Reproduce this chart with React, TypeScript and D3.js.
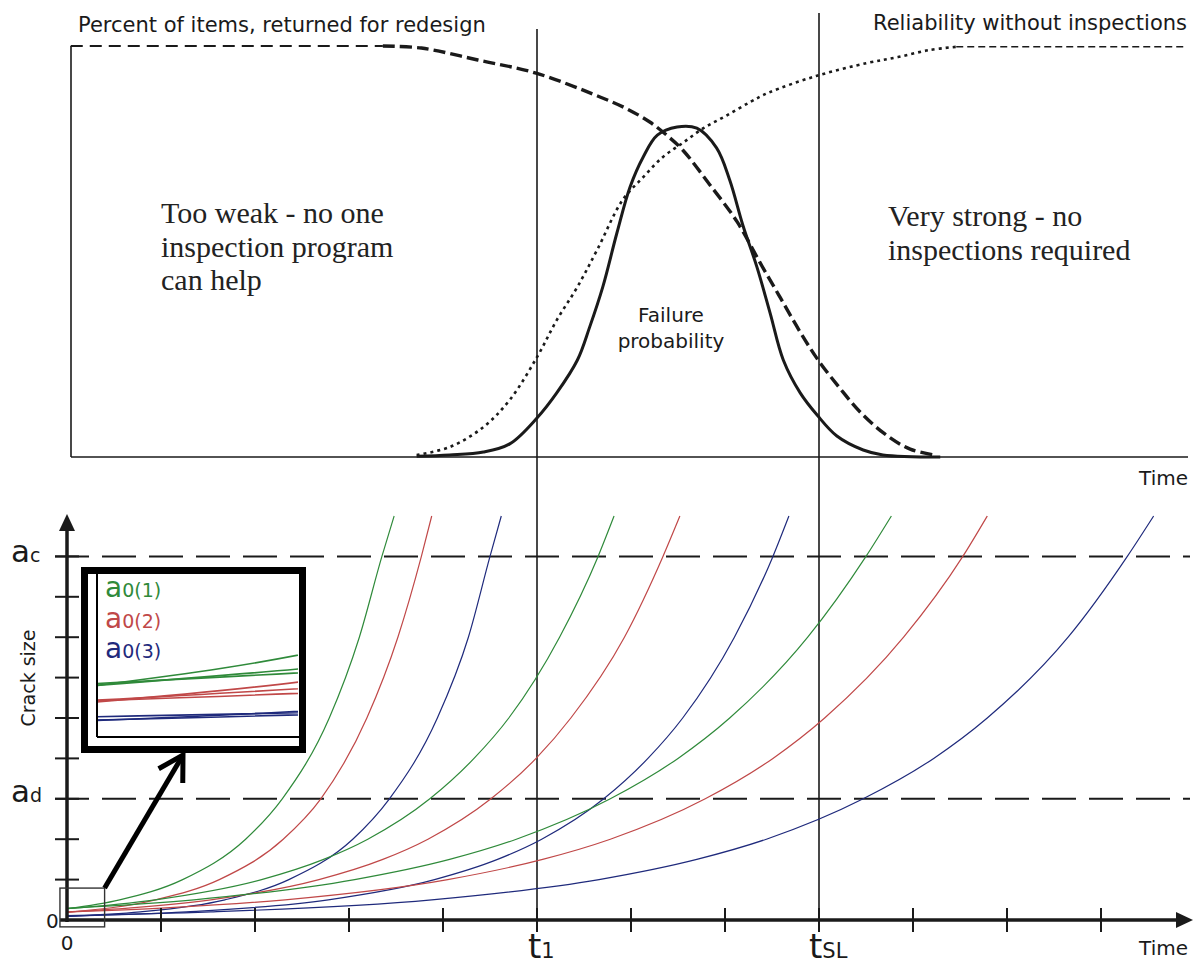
import React from 'react';
import * as d3 from 'd3';

const W = 1200;
const H = 967;

// ---- time / crack axes ----
const timeTicks = [1, 2, 3, 4, 5, 6, 7, 8, 9, 10, 11];
const crackTicks = [1, 2, 3, 4, 5, 6, 7, 8, 9];
const T1 = 5;
const TSL = 8;
const A_CRIT = 9;
const A_DET = 3;

// ---- upper panel: probability curves, [time, percent] ----
const returnedForRedesign: [number, number][] = [
  [0.04, 100], [3.36, 100], [3.77, 99.5], [4.37, 96.6], [4.99, 93.4], [5.67, 87.6],
  [5.94, 84.9], [6.2, 81.5], [6.39, 78.1], [6.55, 74.7], [6.84, 66.2], [7.13, 57.2],
  [7.37, 47.4], [7.59, 38.7], [7.8, 30.4], [7.99, 23.6], [8.22, 16.8], [8.44, 10.9],
  [8.7, 5.6], [8.97, 1.9], [9.23, 0.5],
];
const reliabilityNoInspections: [number, number][] = [
  [3.72, 0.5], [4.07, 2.4], [4.43, 7.3], [4.71, 13.9], [5.0, 24.3], [5.21, 33.3],
  [5.43, 41.4], [5.64, 50.4], [5.91, 62.5], [6.13, 68.1], [6.34, 73.0], [6.55, 76.4],
  [6.77, 80.0], [7.01, 83.0], [7.27, 86.4], [7.46, 88.6], [7.97, 92.7], [8.52, 95.9],
  [8.84, 97.3], [9.17, 99.0], [9.46, 99.8], [11.89, 99.8],
];
const failureProbability: [number, number][] = [
  [3.72, 0.2], [4.07, 0.5], [4.43, 1.2], [4.71, 3.2], [5.0, 9.5], [5.21, 15.6],
  [5.43, 23.6], [5.56, 31.6], [5.7, 41.4], [5.85, 54.5], [5.99, 65.7], [6.13, 73.0],
  [6.28, 78.3], [6.49, 80.3], [6.7, 80.0], [6.91, 75.2], [7.05, 67.4], [7.19, 56.4],
  [7.34, 46.2], [7.48, 35.0], [7.62, 23.6], [7.8, 15.6], [7.98, 10.2], [8.19, 5.1],
  [8.47, 1.7], [8.68, 0.5], [9.29, 0],
];

// ---- lower panel: crack growth, [time, crack size] ----
const crackG1: [number, number][] = [[0, 0.28], [0.56, 0.5], [1.23, 1], [1.9, 2], [2.29, 3], [2.79, 5], [3.11, 7], [3.35, 9], [3.48, 10]];
const crackR1: [number, number][] = [[0, 0.19], [0.94, 0.5], [1.62, 1], [2.3, 2], [2.7, 3], [3.19, 5], [3.52, 7], [3.77, 9], [3.88, 10]];
const crackB1: [number, number][] = [[0, 0.09], [0.78, 0.2], [1.68, 0.5], [2.36, 1], [3.04, 2], [3.43, 3], [3.94, 5], [4.27, 7], [4.5, 9], [4.62, 10]];
const crackG2: [number, number][] = [[0, 0.28], [0.94, 0.5], [2.07, 1], [2.73, 1.5], [3.2, 2], [3.86, 3], [4.33, 4], [4.7, 5], [5.24, 7], [5.65, 9], [5.82, 10]];
const crackR2: [number, number][] = [[0, 0.2], [0.68, 0.3], [1.53, 0.5], [2.68, 1], [3.36, 1.5], [3.84, 2], [4.51, 3], [4.99, 4], [5.36, 5], [5.93, 7], [6.34, 9], [6.52, 10]];
const crackB2: [number, number][] = [[0, 0.092], [1.27, 0.2], [2.78, 0.5], [3.91, 1], [4.58, 1.5], [5.05, 2], [5.71, 3], [6.18, 4], [6.55, 5], [7.1, 7], [7.51, 9], [7.68, 10]];
const crackG3: [number, number][] = [[0, 0.29], [1.35, 0.5], [3.06, 1], [4.07, 1.5], [4.78, 2], [5.78, 3], [6.5, 4], [7.05, 5], [7.88, 7], [8.5, 9], [8.77, 10]];
const crackR3: [number, number][] = [[0, 0.197], [1.05, 0.3], [2.32, 0.5], [4.05, 1], [5.06, 1.5], [5.78, 2], [6.79, 3], [7.51, 4], [8.06, 5], [8.9, 7], [9.53, 9], [9.79, 10]];
const crackB3: [number, number][] = [[0, 0.11], [1.53, 0.2], [3.88, 0.5], [5.66, 1], [6.7, 1.5], [7.44, 2], [8.47, 3], [9.22, 4], [9.79, 5], [10.65, 7], [11.28, 9], [11.56, 10]];

const initialCracks = ['a0(1)', 'a0(2)', 'a0(3)'];
const GREEN = '#2f8a3a';
const RED = '#c04848';
const BLUE = '#1f2a7c';
const crackSeries = [
  { group: 0, color: GREEN, pts: crackG1 },
  { group: 1, color: RED, pts: crackR1 },
  { group: 2, color: BLUE, pts: crackB1 },
  { group: 0, color: GREEN, pts: crackG2 },
  { group: 1, color: RED, pts: crackR2 },
  { group: 2, color: BLUE, pts: crackB2 },
  { group: 0, color: GREEN, pts: crackG3 },
  { group: 1, color: RED, pts: crackR3 },
  { group: 2, color: BLUE, pts: crackB3 },
];
const groupColors = [GREEN, RED, BLUE];

// ---- scales ----
const x = d3.scaleLinear().domain([0, 12]).range([67, 1195]);
const yTop = d3.scaleLinear().domain([0, 100]).range([457, 46]);
const yCrack = d3.scaleLinear().domain([0, 10]).range([920, 516]);
const xInset = d3.scaleLinear().domain([0, 0.45]).range([97, 298]);
const yInset = d3.scaleLinear().domain([0, 0.89]).range([737, 573]);

const topLine = d3.line<[number, number]>().x(d => x(d[0])).y(d => yTop(d[1])).curve(d3.curveCatmullRom.alpha(0.5));
const crackLine = d3.line<[number, number]>().x(d => x(d[0])).y(d => yCrack(d[1])).curve(d3.curveMonotoneX);
const insetLine = d3.line<[number, number]>().x(d => xInset(d[0])).y(d => yInset(d[1])).curve(d3.curveMonotoneX);

const SANS = 'DejaVu Sans, Verdana, sans-serif';
const SERIF = 'Liberation Serif, Times New Roman, serif';
const INK = '#1a1a1a';

export default function App() {
  const topLeft = x(0) + 4;
  const topRight = 1188;
  const flatEnd = 1; // index where the redesign curve leaves its plateau
  const relFlatStart = reliabilityNoInspections.length - 2;

  // zoom window near the origin and the pointer towards the inset
  const zx0 = x(-0.075), zx1 = x(0.4);
  const zy0 = yCrack(0.79), zy1 = yCrack(-0.17);
  const ax0 = zx1, ay0 = zy0;
  const ax1 = 183, ay1 = 755;
  const len = Math.hypot(ax1 - ax0, ay1 - ay0);
  const ux = (ax0 - ax1) / len, uy = (ay0 - ay1) / len;
  const rot = (a: number) => [ux * Math.cos(a) - uy * Math.sin(a), ux * Math.sin(a) + uy * Math.cos(a)];
  const [l1x, l1y] = rot(Math.PI / 6);
  const [l2x, l2y] = rot(-Math.PI / 6);
  const headLen = 28;

  return (
    <div style={{ position: 'absolute', left: 0, top: 0 }}>
      <svg width={W} height={H} viewBox={`0 0 ${W} ${H}`} style={{ display: 'block', background: '#fff' }}>
        <defs>
          <clipPath id="insetClip">
            <rect x={xInset(0)} y={yInset(0.89)} width={xInset(0.45) - xInset(0)} height={yInset(0) - yInset(0.89)} />
          </clipPath>
        </defs>
        <rect x={0} y={0} width={W} height={H} fill="#fff" />

        {/* ===== upper panel ===== */}
        <line x1={topLeft} x2={topLeft} y1={yTop(100)} y2={yTop(0)} stroke={INK} strokeWidth={1.6} />
        <line x1={topLeft} x2={topRight} y1={yTop(0)} y2={yTop(0)} stroke={INK} strokeWidth={1.6} />

        {/* redesign share: plateau then descending branch */}
        <path d={topLine(returnedForRedesign.slice(0, flatEnd + 1)) || ''} fill="none" stroke={INK} strokeWidth={2} strokeDasharray="12 7" />
        <path d={topLine(returnedForRedesign.slice(flatEnd)) || ''} fill="none" stroke={INK} strokeWidth={3.4} strokeDasharray="12 5" />

        {/* reliability without inspections */}
        <path d={topLine(reliabilityNoInspections.slice(0, relFlatStart + 1)) || ''} fill="none" stroke={INK} strokeWidth={2.6} strokeDasharray="3 4" />
        <path d={topLine(reliabilityNoInspections.slice(relFlatStart)) || ''} fill="none" stroke={INK} strokeWidth={1.5} strokeDasharray="7 4" />

        {/* failure probability */}
        <path d={topLine(failureProbability) || ''} fill="none" stroke={INK} strokeWidth={3} />

        <text x={78} y={32} fontFamily={SANS} fontSize={21} fill={INK}>Percent of items, returned for redesign</text>
        <text x={1187} y={30} fontFamily={SANS} fontSize={21} fill={INK} textAnchor="end">Reliability without inspections</text>
        <text fontFamily={SERIF} fontSize={30} fill="#222">
          <tspan x={161} y={223}>Too weak - no one</tspan>
          <tspan x={161} y={257}>inspection program</tspan>
          <tspan x={161} y={290}>can help</tspan>
        </text>
        <text fontFamily={SERIF} fontSize={30} fill="#222">
          <tspan x={888} y={226}>Very strong - no</tspan>
          <tspan x={888} y={260}>inspections required</tspan>
        </text>
        <text fontFamily={SANS} fontSize={20} fill={INK} textAnchor="middle">
          <tspan x={671} y={322}>Failure</tspan>
          <tspan x={671} y={348}>probability</tspan>
        </text>
        <text x={1188} y={485} fontFamily={SANS} fontSize={20} fill={INK} textAnchor="end">Time</text>

        {/* ===== milestone lines through both panels ===== */}
        <line x1={x(T1)} x2={x(T1)} y1={29} y2={yCrack(0)} stroke={INK} strokeWidth={1.6} />
        <line x1={x(TSL)} x2={x(TSL)} y1={13} y2={yCrack(0)} stroke={INK} strokeWidth={1.6} />

        {/* ===== lower panel ===== */}
        {[A_CRIT, A_DET].map(a => (
          <line key={a} x1={55} x2={1190} y1={yCrack(a)} y2={yCrack(a)} stroke={INK} strokeWidth={2} strokeDasharray="34 13" />
        ))}

        {crackSeries.map((s, i) => (
          <path key={i} d={crackLine(s.pts) || ''} fill="none" stroke={s.color} strokeWidth={1.2} />
        ))}

        {/* axes */}
        <line x1={x(0)} x2={x(0)} y1={yCrack(0) + 2} y2={528} stroke={INK} strokeWidth={3.5} />
        <path d={`M${x(0)},514 L${x(0) - 8},531 L${x(0) + 8},531 Z`} fill={INK} />
        <line x1={60} x2={1178} y1={yCrack(0)} y2={yCrack(0)} stroke={INK} strokeWidth={3.5} />
        <path d={`M1193,${yCrack(0)} L1176,${yCrack(0) - 8} L1176,${yCrack(0) + 8} Z`} fill={INK} />
        {crackTicks.map(t => (
          <line key={t} x1={55} x2={79} y1={yCrack(t)} y2={yCrack(t)} stroke={INK} strokeWidth={2} />
        ))}
        {timeTicks.map(t => (
          <line key={t} x1={x(t)} x2={x(t)} y1={yCrack(0) - 12} y2={yCrack(0) + 12} stroke={INK} strokeWidth={2} />
        ))}

        {/* axis labels */}
        <text x={11} y={562} fontFamily={SANS} fill={INK}>
          <tspan fontSize={31}>a</tspan><tspan fontSize={19}>c</tspan>
        </text>
        <text x={11} y={802} fontFamily={SANS} fill={INK}>
          <tspan fontSize={31}>a</tspan><tspan fontSize={19}>d</tspan>
        </text>
        <text x={46} y={928} fontFamily={SANS} fontSize={20} fill={INK}>0</text>
        <text x={x(0)} y={950} fontFamily={SANS} fontSize={20} fill={INK} textAnchor="middle">0</text>
        <text transform="translate(35,678) rotate(-90)" fontFamily={SANS} fontSize={19} fill={INK} textAnchor="middle">Crack size</text>
        <text x={x(T1) - 9} y={958} fontFamily={SANS} fill={INK}>
          <tspan fontSize={34}>t</tspan><tspan fontSize={21}>1</tspan>
        </text>
        <text x={x(TSL) - 10} y={958} fontFamily={SANS} fill={INK}>
          <tspan fontSize={34}>t</tspan><tspan fontSize={21}>SL</tspan>
        </text>
        <text x={1188} y={955} fontFamily={SANS} fontSize={20} fill={INK} textAnchor="end">Time</text>

        {/* zoom window at the origin */}
        <rect x={zx0} y={zy0} width={zx1 - zx0} height={zy1 - zy0} fill="none" stroke="#333" strokeWidth={1.4} />
        <line x1={ax0} y1={ay0} x2={ax1} y2={ay1} stroke="#000" strokeWidth={5} />
        <path
          d={`M${ax1 + l1x * headLen},${ay1 + l1y * headLen} L${ax1},${ay1} L${ax1 + l2x * headLen},${ay1 + l2y * headLen}`}
          fill="none" stroke="#000" strokeWidth={5} strokeLinejoin="miter"
        />

        {/* inset: magnified initial cracks */}
        <rect x={84.5} y={570.5} width={218} height={179} fill="#fff" stroke="#000" strokeWidth={7} />
        <g clipPath="url(#insetClip)">
          {crackSeries.map((s, i) => (
            <path key={i} d={insetLine(s.pts) || ''} fill="none" stroke={s.color} strokeWidth={1.6} />
          ))}
        </g>
        <line x1={xInset(0)} x2={xInset(0)} y1={573} y2={yInset(0)} stroke="#000" strokeWidth={2} />
        <line x1={xInset(0)} x2={300} y1={yInset(0)} y2={yInset(0)} stroke="#000" strokeWidth={2} />
        {initialCracks.map((lbl, i) => (
          <text key={lbl} x={105} y={597 + i * 30.5} fontFamily={SANS} fill={groupColors[i]}>
            <tspan fontSize={28}>{lbl.slice(0, 1)}</tspan><tspan fontSize={19}>{lbl.slice(1)}</tspan>
          </text>
        ))}
      </svg>
    </div>
  );
}
